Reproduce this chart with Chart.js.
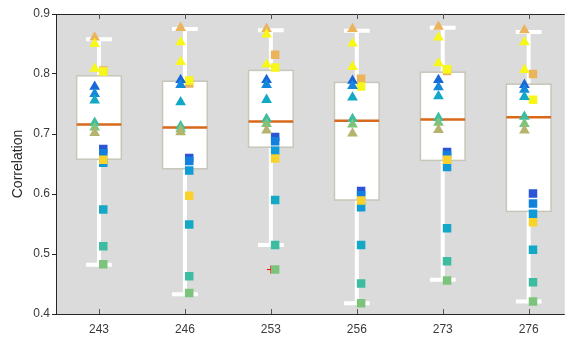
<!DOCTYPE html>
<html>
<head>
<meta charset="utf-8">
<script src="https://cdn.jsdelivr.net/npm/chart.js@4.4.0/dist/chart.umd.min.js"></script>
<style>
  html, body { margin: 0; padding: 0; background: #fff; }
  canvas { display: block; }
</style>
</head>
<body>
<canvas id="boxChart" width="571" height="337"></canvas>
<script>
const categories = ['243', '246', '253', '256', '273', '276'];

// box statistics per category
const boxQ1 = [0.658, 0.642, 0.678, 0.590, 0.656, 0.571];
const boxQ3 = [0.797, 0.788, 0.806, 0.786, 0.803, 0.783];
const boxMedian = [0.716, 0.711, 0.721, 0.722, 0.724, 0.728];
const whiskerLow = [0.482, 0.433, 0.515, 0.418, 0.457, 0.421];
const whiskerHigh = [0.858, 0.875, 0.873, 0.872, 0.877, 0.870];

// outliers: [category index, value]
const outliers = [[2, 0.474]];

// triangle markers, one row per category
const triangleValues = [
  [0.861, 0.850, 0.809, 0.779, 0.767, 0.756, 0.719, 0.711, 0.702],
  [0.877, 0.853, 0.820, 0.790, 0.782, 0.753, 0.713, 0.708, 0.703],
  [0.875, 0.866, 0.816, 0.790, 0.782, 0.757, 0.725, 0.717, 0.706],
  [0.875, 0.851, 0.812, 0.789, 0.780, 0.761, 0.725, 0.716, 0.701],
  [0.879, 0.861, 0.818, 0.790, 0.778, 0.763, 0.727, 0.719, 0.707],
  [0.873, 0.853, 0.807, 0.782, 0.774, 0.762, 0.729, 0.717, 0.706]
];

// square markers, one row per category
const squareValues = [
  [0.806, 0.804, 0.675, 0.668, 0.652, 0.657, 0.574, 0.513, 0.483],
  [0.784, 0.789, 0.660, 0.655, 0.639, 0.597, 0.549, 0.463, 0.435],
  [0.832, 0.811, 0.695, 0.688, 0.672, 0.659, 0.590, 0.515, 0.474],
  [0.792, 0.779, 0.605, 0.598, 0.578, 0.589, 0.515, 0.451, 0.418],
  [0.805, 0.808, 0.670, 0.665, 0.645, 0.657, 0.543, 0.488, 0.456],
  [0.800, 0.757, 0.601, 0.584, 0.567, 0.553, 0.507, 0.453, 0.421]
];

const triangleColors = ['#ebb35a', '#f7f71a', '#f7f71a', '#1866d8', '#1488da', '#12a8c6', '#3cbca0', '#7cc47c', '#b4b46e'];
const squareColors = ['#ebb35a', '#f7f71a', '#2a55d4', '#1480de', '#0f9ad8', '#f9d22c', '#12a8c6', '#3cbca0', '#7cc47c'];

const MARK_SHIFT = 0.05;
const BOX_HALF = 0.26;
const CAP_HALF = 0.15;

function markerPoints(rows, shift) {
  const pts = [];
  rows.forEach((row, i) => row.forEach(v => pts.push({ x: i + 1 + shift, y: v })));
  return pts;
}
function markerColors(rows, colors) {
  const out = [];
  rows.forEach(row => row.forEach((v, j) => out.push(colors[j])));
  return out;
}

const boxPlugin = {
  id: 'boxes',
  beforeDraw(chart) {
    const { ctx, chartArea: a } = chart;
    ctx.save();
    ctx.fillStyle = '#dbdbdb';
    ctx.fillRect(a.left, a.top, a.right - a.left, a.bottom - a.top);
    ctx.restore();
  },
  beforeDatasetsDraw(chart) {
    const { ctx, scales: { x, y } } = chart;
    ctx.save();
    categories.forEach((c, i) => {
      const cx = x.getPixelForValue(i + 1);
      const half = x.getPixelForValue(i + 1 + BOX_HALF) - cx;
      const capHalf = x.getPixelForValue(i + 1 + CAP_HALF) - cx;
      const y1 = y.getPixelForValue(boxQ1[i]);
      const y3 = y.getPixelForValue(boxQ3[i]);
      const yMed = y.getPixelForValue(boxMedian[i]);
      const yLo = y.getPixelForValue(whiskerLow[i]);
      const yHi = y.getPixelForValue(whiskerHigh[i]);

      ctx.strokeStyle = '#ffffff';
      ctx.lineWidth = 4;
      ctx.beginPath();
      ctx.moveTo(cx, y3); ctx.lineTo(cx, yHi);
      ctx.moveTo(cx - capHalf, yHi); ctx.lineTo(cx + capHalf, yHi);
      ctx.moveTo(cx, y1); ctx.lineTo(cx, yLo);
      ctx.moveTo(cx - capHalf, yLo); ctx.lineTo(cx + capHalf, yLo);
      ctx.stroke();

      ctx.fillStyle = '#ffffff';
      ctx.fillRect(cx - half, y3, half * 2, y1 - y3);
      ctx.strokeStyle = '#c6c6ba';
      ctx.lineWidth = 1.5;
      ctx.strokeRect(cx - half, y3, half * 2, y1 - y3);

      ctx.strokeStyle = '#d8681a';
      ctx.lineWidth = 2.5;
      ctx.beginPath();
      ctx.moveTo(cx - half, yMed); ctx.lineTo(cx + half, yMed);
      ctx.stroke();
    });
    ctx.restore();
  },
  afterDraw(chart) {
    const { ctx, chartArea: a, scales: { x } } = chart;
    ctx.save();
    ctx.strokeStyle = '#262626';
    ctx.lineWidth = 1;
    ctx.beginPath();
    ctx.moveTo(a.left + 0.5, a.top + 0.5); ctx.lineTo(a.right, a.top + 0.5);
    ctx.moveTo(a.left + 0.5, a.top); ctx.lineTo(a.left + 0.5, a.bottom);
    ctx.moveTo(a.left, a.bottom + 0.5); ctx.lineTo(a.right, a.bottom + 0.5);
    ctx.stroke();
    ctx.strokeStyle = '#555555';
    ctx.beginPath();
    categories.forEach((c, i) => {
      const px = Math.round(x.getPixelForValue(i + 1)) + 0.5;
      ctx.moveTo(px, a.top); ctx.lineTo(px, a.top + 5);
      ctx.moveTo(px, a.bottom); ctx.lineTo(px, a.bottom - 5);
    });
    ctx.stroke();
    ctx.restore();
  }
};

new Chart(document.getElementById('boxChart'), {
  type: 'scatter',
  data: {
    datasets: [
      {
        label: 'triangles',
        data: markerPoints(triangleValues, -MARK_SHIFT),
        pointStyle: 'triangle',
        pointRadius: 6.2,
        pointBorderWidth: 0,
        backgroundColor: markerColors(triangleValues, triangleColors),
        borderColor: 'rgba(0,0,0,0)'
      },
      {
        label: 'squares',
        data: markerPoints(squareValues, MARK_SHIFT),
        pointStyle: 'rect',
        pointRadius: 6,
        pointBorderWidth: 0,
        backgroundColor: markerColors(squareValues, squareColors),
        borderColor: 'rgba(0,0,0,0)'
      },
      {
        label: 'outliers',
        data: outliers.map(o => ({ x: o[0] + 1, y: o[1] })),
        pointStyle: 'cross',
        pointRadius: 4,
        pointBorderWidth: 1,
        borderColor: '#ff0000',
        backgroundColor: '#ff0000'
      }
    ]
  },
  options: {
    responsive: false,
    animation: false,
    layout: { padding: { top: 14, right: 0, left: 0, bottom: 0 } },
    plugins: { legend: { display: false }, tooltip: { enabled: false } },
    scales: {
      x: {
        type: 'linear',
        min: 0.5,
        max: 6.42,
        afterBuildTicks: s => { s.ticks = categories.map((c, i) => ({ value: i + 1 })); },
        afterFit: s => { s.height = 23; },
        grid: { display: false, drawTicks: false },
        border: { display: false },
        ticks: {
          autoSkip: false,
          maxRotation: 0,
          padding: 8,
          color: '#3a3a3a',
          font: { family: 'Liberation Sans, Arial, sans-serif', size: 12 },
          callback: v => categories[Math.round(v) - 1]
        }
      },
      y: {
        min: 0.4,
        max: 0.9,
        afterFit: s => { s.width = 56; },
        grid: { drawOnChartArea: false, tickLength: 4, color: '#262626' },
        border: { display: false },
        ticks: {
          stepSize: 0.1,
          padding: 2,
          color: '#3a3a3a',
          font: { family: 'Liberation Sans, Arial, sans-serif', size: 12 },
          callback: v => v.toFixed(1)
        },
        title: {
          display: true,
          text: 'Correlation',
          color: '#262626',
          padding: { top: 10, bottom: 0 },
          font: { family: 'Liberation Sans, Arial, sans-serif', size: 14 }
        }
      }
    }
  },
  plugins: [boxPlugin]
});
</script>
</body>
</html>
